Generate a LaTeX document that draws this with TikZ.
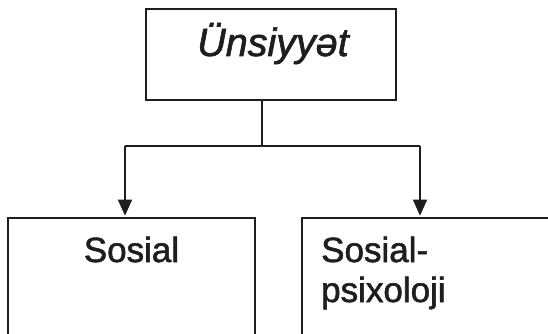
\documentclass[tikz,border=0pt]{standalone}
\usepackage{fontspec}
\setmainfont{Liberation Sans}[RawFeature={embolden=1.6}]
\usetikzlibrary{arrows.meta}
\definecolor{ink}{HTML}{1E1E1E}
\begin{document}
\begin{tikzpicture}[x=1pt,y=-1pt,
  box/.style={draw=ink,line width=1.6pt,rectangle,inner sep=0pt},
  link/.style={draw=ink,line width=1.5pt},
  arrowlink/.style={link,-{Triangle[length=16pt,width=14pt]},shorten >=1.5pt},
  caption/.style={inner sep=0pt,text=ink,font=\fontsize{35}{40}\selectfont},
  headline/.style={inner sep=0pt,text=ink,font=\fontsize{39.5}{44}\selectfont\itshape}]
\useasboundingbox (0,0) rectangle (548,334);
\fill[white] (0,0) rectangle (548,334);
\clip (0,0) rectangle (548,334);

% boxes
\node[box,minimum width=250pt,minimum height=91pt] (top) at (271,54.5) {};
\node[box,minimum width=247pt,minimum height=132pt] (sos) at (131.5,284) {};
\node[box,minimum width=268pt,minimum height=132pt] (psi) at (436,284) {};

% texts
\node[headline,anchor=base] (topText) at (273,56) {Ünsiyyət};
\node[caption,anchor=base] (sosText) at (131.5,262) {Sosial};
\node[caption,anchor=base west] (psiTextA) at (321,262) {Sosial-};
\node[caption,anchor=base west] (psiTextB) at (321,302) {psixoloji};

% connectors
\coordinate (fork) at (262,146);
\coordinate (forkL) at (125,146);
\coordinate (forkR) at (420,146);
\draw[link] (top.south -| fork) -- (fork);
\draw[link] (forkL) -- (forkR);
\draw[arrowlink] (forkL) -- (forkL |- sos.north);
\draw[arrowlink] (forkR) -- (forkR |- psi.north);
\end{tikzpicture}
\end{document}
